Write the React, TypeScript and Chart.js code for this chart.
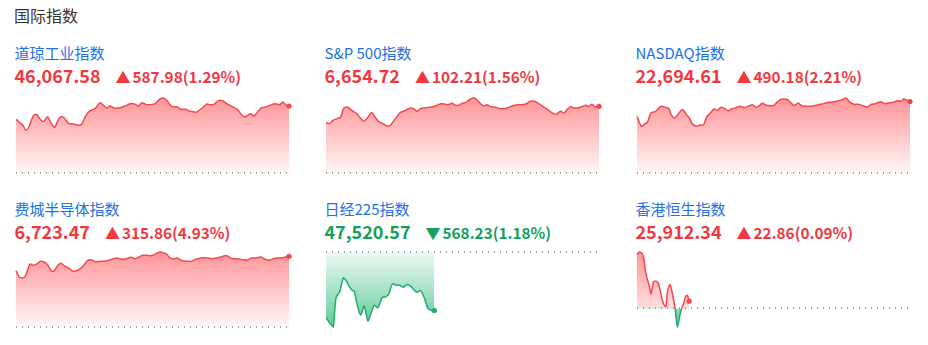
import React, { useEffect, useRef } from "react";
import { Chart, registerables } from "chart.js";

Chart.register(...registerables);

// ---------- data ----------
const pageTitle = "国际指数";

const dowName = "道琼工业指数";
const dowPrice = "46,067.58";
const dowChange = "587.98(1.29%)";
const dowPrev = 45479.6;
const dowTimes = [0,6,10,14,19,25,30,35,40,45,50,55,60,64,69,75,82,89,94,100,106,113,120,125,130,134,140,149,156,163,169,175,180,186,192,199,205,210,215,220,225,230,235,242,249,258,266,273,277,283,289,296,301,308,316,320,325,330,335,340,347,351,356,363,370,377,381,386,390];
const dowValues = [45950.6,45918.4,45897.9,45854.0,45892.1,45985.7,45991.5,45947.6,45933.0,45974.0,45918.4,45877.4,45941.8,45974.0,45962.3,45915.5,45909.6,45897.9,45909.6,45985.7,46026.6,46044.2,46096.8,46073.5,46050.0,46067.6,46050.0,46052.9,46067.6,46088.0,46085.1,46067.6,46096.8,46079.3,46079.3,46088.0,46126.1,46137.8,46120.2,46079.3,46058.8,46061.7,46038.4,46038.4,46020.8,46014.9,46050.0,46085.1,46079.3,46082.2,46114.4,46111.5,46088.0,46064.7,46038.4,46009.1,45974.0,45979.8,46000.3,45979.8,46029.6,46052.9,46055.9,46073.5,46088.0,46079.3,46102.7,46073.5,46067.58];

const spxName = "S&P 500指数";
const spxPrice = "6,654.72";
const spxChange = "102.21(1.56%)";
const spxPrev = 6552.51;
const spxTimes = [0,5,10,16,21,25,30,35,40,44,49,54,59,65,70,75,82,87,92,99,106,113,121,125,130,135,142,149,156,164,171,175,180,185,190,195,199,204,210,215,221,226,230,235,242,249,256,261,266,273,280,286,292,298,304,311,318,324,329,335,340,345,349,354,361,366,371,375,380,384,390];
const spxValues = [6629.6,6628.1,6633.2,6635.8,6638.3,6651.1,6653.6,6650.1,6646.0,6643.4,6636.8,6631.7,6636.8,6645.0,6638.3,6631.7,6627.6,6624.5,6625.6,6635.8,6645.0,6648.0,6652.1,6651.1,6647.0,6651.1,6652.6,6653.1,6655.2,6658.7,6657.7,6657.2,6659.3,6656.2,6656.2,6659.3,6660.3,6663.9,6667.4,6665.4,6658.2,6655.2,6657.2,6654.2,6653.1,6651.1,6651.1,6653.1,6655.2,6657.2,6657.2,6658.2,6662.3,6662.3,6658.7,6653.6,6648.5,6643.9,6642.4,6647.0,6644.5,6650.1,6654.2,6652.1,6652.6,6654.2,6656.2,6654.2,6657.7,6654.2,6654.72];

const ndxName = "NASDAQ指数";
const ndxPrice = "22,694.61";
const ndxChange = "490.18(2.21%)";
const ndxPrev = 22204.43;
const ndxTimes = [0,6,10,15,20,26,30,35,40,45,49,54,59,65,70,75,79,86,90,95,100,105,110,115,120,126,130,135,141,147,153,159,165,170,175,179,184,189,195,200,205,210,215,220,225,230,235,241,247,253,260,267,274,282,287,293,299,303,310,316,322,329,335,341,348,354,360,366,372,377,381,386,390];
const ndxValues = [22593.9,22525.6,22537.0,22552.9,22616.7,22625.8,22644.0,22662.3,22655.4,22648.6,22603.0,22582.5,22609.9,22639.5,22609.9,22580.3,22541.5,22525.6,22534.7,22534.7,22593.9,22616.7,22644.0,22634.9,22655.4,22644.0,22630.4,22644.0,22650.9,22662.3,22653.2,22662.3,22673.7,22655.4,22666.9,22682.8,22671.4,22666.9,22666.9,22689.6,22707.9,22712.4,22707.9,22685.1,22666.9,22685.1,22666.9,22662.3,22662.3,22666.9,22673.7,22680.5,22689.6,22694.2,22698.7,22707.9,22719.2,22694.2,22675.9,22675.9,22666.9,22657.7,22675.9,22680.5,22694.2,22680.5,22685.1,22689.6,22701.0,22696.4,22712.4,22703.3,22694.61];

const soxName = "费城半导体指数";
const soxPrice = "6,723.47";
const soxChange = "315.86(4.93%)";
const soxPrev = 6407.61;
const soxTimes = [0,5,10,14,20,25,30,35,40,45,50,54,59,64,69,75,81,87,92,97,102,108,114,120,127,134,144,150,157,164,170,175,181,187,192,196,201,206,212,215,220,225,230,237,244,251,257,265,273,280,287,294,301,308,316,323,330,336,343,350,356,362,368,375,381,390];
const soxValues = [6659.7,6630.0,6627.0,6638.9,6689.3,6683.4,6689.3,6701.2,6698.2,6686.3,6659.7,6656.7,6678.9,6692.3,6680.4,6671.5,6656.7,6659.7,6668.6,6683.4,6704.1,6707.1,6698.2,6701.2,6701.2,6707.1,6716.0,6710.1,6711.6,6719.0,6713.0,6719.0,6727.9,6727.9,6726.4,6727.9,6736.8,6742.7,6736.8,6733.8,6716.0,6711.6,6716.0,6704.1,6701.2,6701.2,6710.1,6716.0,6716.0,6713.0,6716.0,6721.9,6726.4,6713.0,6713.0,6708.6,6705.6,6716.0,6716.0,6720.5,6710.1,6705.6,6713.0,6716.0,6717.5,6723.47];

const n225Name = "日经225指数";
const n225Price = "47,520.57";
const n225Change = "568.23(1.18%)";
const n225Prev = 48088.8;
const n225Times = [0,3,6,8,11,15,17,19,22,26,29,31,34,38,42,46,49,51,53,57,62,65,69,73,77,81,85,89,93,97,100,104,108,112,116,119];
const n225Values = [47449.8,47411.1,47378.9,47359.5,47643.5,47701.6,47772.6,47837.1,47811.3,47746.7,47714.5,47708.0,47585.4,47475.7,47562.8,47417.6,47482.1,47530.5,47572.5,47546.7,47649.9,47649.9,47682.2,47779.0,47766.1,47766.1,47746.7,47772.6,47756.4,47717.7,47698.3,47714.5,47643.5,47540.2,47520.8,47520.57];

const hsiName = "香港恒生指数";
const hsiPrice = "25,912.34";
const hsiChange = "22.86(0.09%)";
const hsiPrev = 25889.48;
const hsiTimes = [0,3,6,8,11,15,17,20,23,26,29,32,35,37,40,43,46,49,52,54,56,59,61,63];
const hsiValues = [26058.5,26066.9,26062.7,26050.2,25995.9,25959.4,25935.4,25973.0,25975.1,25966.7,25933.3,25904.1,25895.8,25943.8,25964.6,25933.3,25889.5,25831.1,25870.7,25889.5,25902.0,25928.1,25930.2,25912.34];

// session lengths in minutes (full x range of each sparkline)
const usSession = 390;
const jpSession = 300;
const hkSession = 330;

// ---------- styles ----------
const FONT = '"Noto Sans CJK SC", "Noto Sans", sans-serif';
const RED_TEXT = "#f2383f";
const GREEN_TEXT = "#12a05c";
const BLUE_TEXT = "#2170e8";
const RED_LINE = "#f4474e";
const GREEN_LINE = "#1fae68";

type SparkProps = { times: number[]; values: number[]; prev: number; total: number };

function Spark({ times, values, prev, total }: SparkProps) {
  const ref = useRef<HTMLCanvasElement>(null);
  useEffect(() => {
    const canvas = ref.current;
    if (!canvas) return;
    const last = values.length - 1;
    const lo = Math.min(prev, ...values);
    const hi = Math.max(prev, ...values);
    const lastColor = values[last] >= prev ? RED_LINE : GREEN_LINE;
    const baselinePlugin = {
      id: "baseline",
      afterDatasetsDraw(chart: any) {
        const { ctx, chartArea, scales } = chart;
        const y = Math.round(scales.y.getPixelForValue(prev));
        ctx.save();
        ctx.strokeStyle = "#9c9c9c";
        ctx.lineWidth = 2;
        ctx.setLineDash([1, 5]);
        ctx.beginPath();
        ctx.moveTo(Math.round(chartArea.left), y);
        ctx.lineTo(chartArea.right, y);
        ctx.stroke();
        ctx.restore();
      },
    };
    const chart = new Chart(canvas, {
      type: "line",
      data: {
        datasets: [
          {
            data: times.map((t, i) => ({ x: t, y: values[i] })),
            borderColor: RED_LINE,
            borderWidth: 1.5,
            tension: 0.25,
            clip: false,
            pointRadius: (c: any) => (c.dataIndex === last ? 2.6 : 0),
            pointHoverRadius: 0,
            pointBorderWidth: 0,
            pointBackgroundColor: lastColor,
            segment: {
              borderColor: (c: any) =>
                (c.p0.parsed.y + c.p1.parsed.y) / 2 < prev ? GREEN_LINE : RED_LINE,
            },
            fill: { target: { value: prev }, above: "rgba(255,77,82,0.3)", below: "rgba(30,180,110,0.3)" },
          } as any,
        ],
      },
      options: {
        animation: false,
        responsive: false,
        events: [],
        layout: { padding: { left: 3, right: 3, top: 4, bottom: 4 } },
        plugins: { legend: { display: false }, tooltip: { enabled: false } },
        scales: {
          x: { type: "linear", display: false, min: 0, max: total },
          y: { type: "linear", display: false, min: lo, max: hi },
        },
      },
      plugins: [baselinePlugin],
    });
    const { top, bottom } = chart.chartArea;
    const g = chart.ctx;
    const red = g.createLinearGradient(0, top, 0, bottom);
    red.addColorStop(0, "rgba(255,77,82,0.6)");
    red.addColorStop(1, "rgba(255,77,82,0.05)");
    const green = g.createLinearGradient(0, top, 0, bottom);
    green.addColorStop(0, "rgba(30,180,110,0.08)");
    green.addColorStop(1, "rgba(30,180,110,0.7)");
    (chart.data.datasets[0] as any).fill = { target: { value: prev }, above: red, below: green };
    chart.update();
    return () => chart.destroy();
  }, [times, values, prev, total]);
  return <canvas ref={ref} width={279} height={83} style={{ display: "block", width: 279, height: 83 }} />;
}

type PanelProps = {
  name: string; price: string; change: string; prev: number;
  times: number[]; values: number[]; total: number; left: number; row: number;
};

const ROWS = [
  { name: 37, price: 58, chart: 86 },
  { name: 193, price: 214, chart: 240 },
];

function Panel({ name, price, change, prev, times, values, total, left, row }: PanelProps) {
  const up = values[values.length - 1] >= prev;
  const color = up ? RED_TEXT : GREEN_TEXT;
  const r = ROWS[row];
  return (
    <>
      <div style={{ position: "absolute", left: left + 1.5, top: r.name, fontSize: 15, lineHeight: "15px", color: BLUE_TEXT, whiteSpace: "nowrap" }}>
        {name}
      </div>
      <div style={{ position: "absolute", left: left + 1.5, top: r.price, display: "flex", alignItems: "baseline", color, fontWeight: 700, whiteSpace: "nowrap" }}>
        <span style={{ fontSize: 18, lineHeight: "19px" }}>{price}</span>
        <span style={{ fontSize: 15, lineHeight: "19px", marginLeft: 15, marginRight: 2 }}>{up ? "▲" : "▼"}</span>
        <span style={{ fontSize: 15.3, lineHeight: "19px" }}>{change}</span>
      </div>
      <div style={{ position: "absolute", left, top: r.chart }}>
        <Spark times={times} values={values} prev={prev} total={total} />
      </div>
    </>
  );
}

const COLS = [5, 315, 626];

export default function App() {
  return (
    <div style={{ position: "relative", width: 912, height: 329, fontFamily: FONT, background: "#fff" }}>
      <div style={{ position: "absolute", left: 6, top: -1, fontSize: 16, lineHeight: "16px", color: "#333" }}>{pageTitle}</div>
      <Panel name={dowName} price={dowPrice} change={dowChange} prev={dowPrev} times={dowTimes} values={dowValues} total={usSession} left={COLS[0]} row={0} />
      <Panel name={spxName} price={spxPrice} change={spxChange} prev={spxPrev} times={spxTimes} values={spxValues} total={usSession} left={COLS[1]} row={0} />
      <Panel name={ndxName} price={ndxPrice} change={ndxChange} prev={ndxPrev} times={ndxTimes} values={ndxValues} total={usSession} left={COLS[2]} row={0} />
      <Panel name={soxName} price={soxPrice} change={soxChange} prev={soxPrev} times={soxTimes} values={soxValues} total={usSession} left={COLS[0]} row={1} />
      <Panel name={n225Name} price={n225Price} change={n225Change} prev={n225Prev} times={n225Times} values={n225Values} total={jpSession} left={COLS[1]} row={1} />
      <Panel name={hsiName} price={hsiPrice} change={hsiChange} prev={hsiPrev} times={hsiTimes} values={hsiValues} total={hkSession} left={COLS[2]} row={1} />
    </div>
  );
}
